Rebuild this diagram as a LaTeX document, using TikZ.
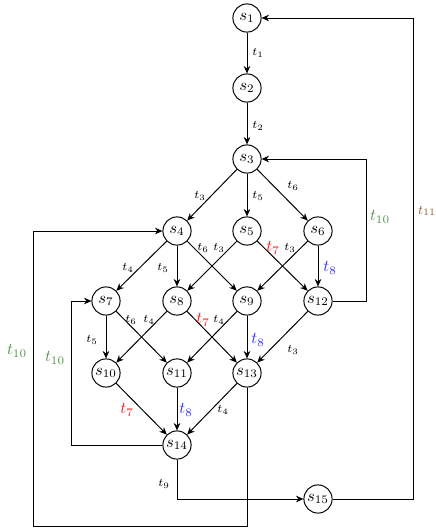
\documentclass[tikz,border=0pt]{standalone}
\usetikzlibrary{arrows.meta}
\definecolor{tgreen}{rgb}{0.33,0.58,0.3}
\definecolor{tbrown}{rgb}{0.62,0.36,0.22}
\definecolor{tblue}{rgb}{0.2,0.2,1}
\definecolor{tred}{rgb}{1,0.1,0.1}
\begin{document}
\begin{tikzpicture}[x=0.02128cm,y=-0.02128cm,
  st/.style={circle,draw,line width=0.6pt,minimum size=0.6cm,inner sep=0pt},
  arr/.style={-{Stealth[length=4.5pt,width=4pt]},line width=0.6pt},
  lb/.style={font=\scriptsize,inner sep=1pt},
  cl/.style={font=\normalsize,inner sep=1pt}]
\useasboundingbox (0,0) rectangle (435,531);
% states
\node[st] (s1) at (247,18) {$s_1$};
\node[st] (s2) at (247,88) {$s_2$};
\node[st] (s3) at (247,159) {$s_3$};
\node[st] (s4) at (177,231) {$s_4$};
\node[st] (s5) at (247,231) {$s_5$};
\node[st] (s6) at (318,231) {$s_6$};
\node[st] (s7) at (106,301) {$s_7$};
\node[st] (s8) at (177,301) {$s_8$};
\node[st] (s9) at (247,301) {$s_9$};
\node[st] (s12) at (318,301) {$s_{12}$};
\node[st] (s10) at (106,373) {$s_{10}$};
\node[st] (s11) at (177,373) {$s_{11}$};
\node[st] (s13) at (247,373) {$s_{13}$};
\node[st] (s14) at (177,445) {$s_{14}$};
\node[st] (s15) at (318,499) {$s_{15}$};
% corner coordinates
\coordinate (k1) at (366,0);
\coordinate (k2) at (413,0);
\coordinate (k3) at (71,0);
\coordinate (k4) at (33,526);
% edges
\draw[arr] (s1) -- (s2);
\draw[arr] (s2) -- (s3);
\draw[arr] (s3) -- (s4);
\draw[arr] (s3) -- (s5);
\draw[arr] (s3) -- (s6);
\draw[arr] (s4) -- (s7);
\draw[arr] (s4) -- (s8);
\draw[arr] (s4) -- (s9);
\draw[arr] (s5) -- (s8);
\draw[arr] (s5) -- (s12);
\draw[arr] (s6) -- (s9);
\draw[arr] (s6) -- (s12);
\draw[arr] (s7) -- (s10);
\draw[arr] (s7) -- (s11);
\draw[arr] (s8) -- (s10);
\draw[arr] (s8) -- (s13);
\draw[arr] (s9) -- (s11);
\draw[arr] (s9) -- (s13);
\draw[arr] (s12) -- (s13);
\draw[arr] (s10) -- (s14);
\draw[arr] (s11) -- (s14);
\draw[arr] (s13) -- (s14);
\draw[arr] (s14) |- (s15);
\draw[arr] (s15) -- (s15 -| k2) |- (s1);
\draw[arr] (s12) -- (s12 -| k1) |- (s3);
\draw[arr] (s14) -- (s14 -| k3) |- (s7);
\draw[arr] (s13) |- (k4) |- (s4);
% labels
\node[lb] (l1) at (258,53) {$t_1$};
\node[lb] (l2) at (258,126) {$t_2$};
\node[lb] (l3) at (200,196) {$t_3$};
\node[lb] (l4) at (258,196) {$t_5$};
\node[lb] (l5) at (293,186) {$t_6$};
\node[lb] (l6) at (128,268) {$t_4$};
\node[lb] (l7) at (163,268) {$t_5$};
\node[lb] (l8) at (203,248) {$t_6$};
\node[lb] (l9) at (219,248) {$t_3$};
\node[cl,text=tred] (l10) at (273,248) {$t_7$};
\node[lb] (l11) at (290,248) {$t_3$};
\node[cl,text=tblue] (l12) at (330,268) {$t_8$};
\node[lb] (l13) at (92,340) {$t_5$};
\node[lb] (l14) at (131,320) {$t_6$};
\node[lb] (l15) at (149,320) {$t_4$};
\node[cl,text=tred] (l16) at (203,320) {$t_7$};
\node[lb] (l17) at (219,320) {$t_4$};
\node[cl,text=tblue] (l18) at (258,340) {$t_8$};
\node[lb] (l19) at (293,350) {$t_3$};
\node[cl,text=tred] (l20) at (127,410) {$t_7$};
\node[cl,text=tblue] (l21) at (186,410) {$t_8$};
\node[lb] (l22) at (223,410) {$t_4$};
\node[lb] (l23) at (164,484) {$t_9$};
\node[cl,text=tgreen] (l24) at (17,351) {$t_{10}$};
\node[cl,text=tgreen] (l25) at (55,358) {$t_{10}$};
\node[cl,text=tgreen] (l26) at (380,217) {$t_{10}$};
\node[lb,font=\footnotesize,text=tbrown] (l27) at (427,211) {$t_{11}$};
\end{tikzpicture}
\end{document}
